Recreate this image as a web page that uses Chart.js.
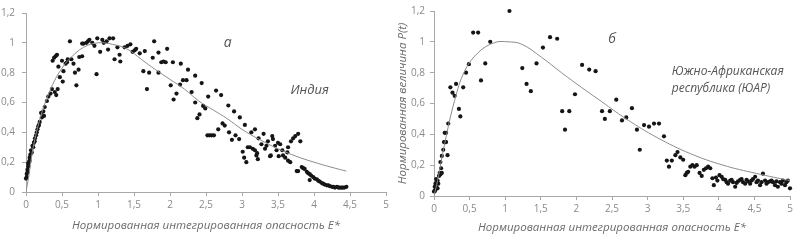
<!DOCTYPE html>
<html lang="ru">
<head>
<meta charset="UTF-8">
<title>Нормированная величина P(t)</title>
<script src="https://cdn.jsdelivr.net/npm/chart.js"></script>
<style>
  body { margin: 0; background: #fff; }
  .wrap { position: relative; width: 798px; height: 240px; }
  canvas { position: absolute; top: 0; }
  #indiaChart { left: 0; }
  #sarChart { left: 390px; }
</style>
</head>
<body>
<div class="wrap">
  <canvas id="indiaChart" width="398" height="240"></canvas>
  <canvas id="sarChart" width="408" height="240"></canvas>
</div>
<script>
// ticks
const xTicks = [0, 0.5, 1, 1.5, 2, 2.5, 3, 3.5, 4, 4.5, 5];
const yTicks = [0, 0.2, 0.4, 0.6, 0.8, 1, 1.2];

// India (a): observed points
const indiaE = [
  0.0, 0.01, 0.02, 0.03, 0.05, 0.05, 0.08, 0.09, 0.11, 0.125, 0.15, 0.17, 0.19, 0.21, 0.25, 0.26, 0.29, 0.31, 0.34, 0.36, 0.40, 0.42, 0.44,
  0.01, 0.02, 0.03, 0.04, 0.06, 0.07, 0.10, 0.12, 0.14, 0.16, 0.18, 0.22, 0.24,
  0.37, 0.39, 0.41, 0.43, 0.45, 0.47, 0.50, 0.51, 0.52, 0.55, 0.57, 0.58, 0.61, 0.63, 0.66, 0.68, 0.70, 0.73, 0.74, 0.78, 0.78, 0.80,
  0.84, 0.86, 0.88, 0.92, 0.95, 0.99, 0.98, 1.03, 1.06, 1.08, 1.12, 1.14, 1.16, 1.21, 1.23, 1.27, 1.30, 1.31, 1.37, 1.41, 1.45, 1.48, 1.51, 1.53,
  1.58, 1.65, 1.63, 1.68, 1.71, 1.76, 1.78, 1.84, 1.84, 1.88, 1.91, 1.94, 1.96, 2.01, 2.04, 2.05, 2.09, 2.14, 2.15, 2.18, 2.23, 2.25, 2.30,
  2.35, 2.35, 2.38, 2.41, 2.44, 2.46, 2.49, 2.53, 2.52, 2.55, 2.58, 2.61, 2.64, 2.67, 2.71, 2.73, 2.76, 2.81, 2.82, 2.86, 2.89, 2.91, 2.96,
  2.97, 3.01, 3.04, 3.03, 3.06, 3.08, 3.11, 3.15, 3.13, 3.18, 3.21, 3.22,
  3.23, 3.18, 3.20, 3.27, 3.30, 3.32, 3.34, 3.36, 3.39, 3.40, 3.42, 3.43, 3.46, 3.48, 3.50, 3.53, 3.51, 3.56, 3.57, 3.60, 3.63, 3.64, 3.64,
  3.67, 3.68, 3.71, 3.74, 3.78, 3.76, 3.78, 3.81, 3.83, 3.85, 3.87, 3.90, 3.92, 3.94, 3.96, 3.99, 3.94, 4.01, 4.04, 4.06, 4.08, 4.11, 4.13,
  4.15, 4.18, 4.20, 4.22, 4.25, 4.27, 4.29, 4.32, 4.34, 4.36, 4.38, 4.40, 4.42, 4.45
];
const indiaP = [
  0.09, 0.12, 0.15, 0.17, 0.21, 0.23, 0.265, 0.31, 0.33, 0.36, 0.40, 0.44, 0.47, 0.53, 0.51, 0.57, 0.61, 0.64, 0.66, 0.69, 0.67, 0.65, 0.69,
  0.10, 0.13, 0.19, 0.20, 0.25, 0.28, 0.30, 0.34, 0.38, 0.42, 0.45, 0.50, 0.54,
  0.88, 0.90, 0.91, 0.92, 0.84, 0.77, 0.88, 0.74, 0.81, 0.86, 0.87, 0.89, 1.01, 0.89, 0.86, 0.80, 0.715, 0.82, 0.905, 0.91, 0.995, 0.995,
  1.0, 1.01, 1.02, 1.0, 0.98, 1.03, 0.79, 0.94, 1.02, 1.0, 1.01, 0.955, 1.03, 1.03, 0.89, 0.97, 0.92, 0.875, 0.97, 0.98, 0.99, 0.94, 0.95, 0.96,
  0.93, 0.945, 0.81, 0.69, 0.80, 0.90, 1.01, 0.80, 0.935, 0.87, 0.875, 0.87, 0.96, 0.715, 0.87, 0.62, 0.66, 0.72, 0.86, 0.75, 0.75, 0.82, 0.67,
  0.60, 0.78, 0.495, 0.52, 0.73, 0.577, 0.56, 0.64, 0.38, 0.38, 0.38, 0.38, 0.68, 0.42, 0.65, 0.46, 0.445, 0.58, 0.40, 0.35, 0.54, 0.38, 0.355,
  0.50, 0.27, 0.45, 0.23, 0.20, 0.30, 0.30, 0.29, 0.40, 0.42, 0.26, 0.22,
  0.36, 0.28, 0.245, 0.32, 0.39, 0.29, 0.31, 0.34, 0.24, 0.245, 0.375, 0.355, 0.31, 0.28, 0.33, 0.32, 0.24, 0.28, 0.245, 0.23, 0.265, 0.30, 0.21,
  0.20, 0.34, 0.36, 0.375, 0.39, 0.14, 0.14, 0.34, 0.167, 0.16, 0.155, 0.135, 0.125, 0.12, 0.11, 0.10, 0.08, 0.09, 0.085, 0.075, 0.07, 0.06, 0.055,
  0.05, 0.045, 0.045, 0.04, 0.035, 0.035, 0.03, 0.035, 0.03, 0.03, 0.03, 0.03, 0.03, 0.035
];
// India (a): fitted curve
const indiaCurveE = [0, 0.05, 0.1, 0.2, 0.3, 0.4, 0.5, 0.6, 0.8, 1.0, 1.2, 1.4, 1.6, 1.8, 2.0, 2.2, 2.4, 2.6, 2.8, 3.0, 3.25, 3.5, 3.75, 4.0, 4.25, 4.45];
const indiaCurveP = [0, 0.14, 0.30, 0.50, 0.64, 0.75, 0.83, 0.89, 0.97, 1.0, 0.99, 0.96, 0.89, 0.82, 0.755, 0.69, 0.61, 0.55, 0.49, 0.42, 0.35, 0.29, 0.24, 0.20, 0.165, 0.14];

// South Africa (б): observed points
const sarE = [
  0.0, 0.01, 0.02, 0.03, 0.05, 0.06, 0.07, 0.08, 0.09, 0.10, 0.11, 0.01, 0.03, 0.05, 0.02, 0.04,
  0.09, 0.11, 0.13, 0.14, 0.16, 0.15, 0.17, 0.19, 0.17, 0.20, 0.23, 0.26, 0.29, 0.31, 0.35, 0.37, 0.41, 0.45, 0.49, 0.55, 0.62, 0.66, 0.72, 0.79,
  1.06, 1.24, 1.30, 1.36, 1.44, 1.53, 1.63, 1.73, 1.80, 1.84, 1.90, 1.98, 2.08, 2.18, 2.27, 2.36, 2.40, 2.47, 2.56, 2.64, 2.70, 2.78,
  2.85, 2.89, 2.95, 3.02, 3.09, 3.16, 3.23, 3.27, 3.30, 3.34, 3.39, 3.42, 3.46, 3.50, 3.53, 3.55, 3.57, 3.60, 3.63, 3.66, 3.69, 3.73, 3.76,
  3.79, 3.82, 3.85, 3.88, 3.91, 3.93, 3.96, 3.98,
  4.01, 4.04, 4.06, 4.09, 4.11, 4.13, 4.16, 4.18, 4.20, 4.23, 4.25, 4.27, 4.30, 4.32, 4.34, 4.37, 4.39, 4.41, 4.44, 4.46, 4.48, 4.51,
  4.53, 4.55, 4.58, 4.60, 4.62, 4.65, 4.67, 4.69, 4.72, 4.74, 4.76, 4.79, 4.81, 4.83, 4.86, 4.88, 4.90, 4.93, 4.95, 4.97, 5.0
];
const sarP = [
  0.03, 0.06, 0.08, 0.06, 0.10, 0.08, 0.13, 0.15, 0.14, 0.18, 0.15, 0.03, 0.11, 0.05, 0.04, 0.09,
  0.22, 0.26, 0.30, 0.35, 0.35, 0.41, 0.41, 0.265, 0.35, 0.47, 0.705, 0.67, 0.65, 0.727, 0.565, 0.516, 0.705, 0.80, 0.855, 1.06, 1.06, 0.75, 0.86, 1.0,
  1.20, 0.83, 0.727, 0.68, 0.86, 0.963, 1.03, 1.02, 0.55, 0.43, 0.55, 0.66, 0.85, 0.82, 0.81, 0.55, 0.50, 0.55, 0.625, 0.49, 0.51, 0.57,
  0.43, 0.30, 0.46, 0.45, 0.47, 0.47, 0.387, 0.23, 0.19, 0.23, 0.265, 0.285, 0.25, 0.235, 0.135, 0.15, 0.157, 0.19, 0.20, 0.19, 0.20, 0.15, 0.13,
  0.17, 0.18, 0.19, 0.18, 0.115, 0.07, 0.12, 0.10,
  0.135, 0.125, 0.11, 0.105, 0.09, 0.08, 0.10, 0.105, 0.09, 0.06, 0.085, 0.095, 0.105, 0.11, 0.09, 0.08, 0.105, 0.095, 0.08, 0.10, 0.11, 0.125,
  0.09, 0.10, 0.07, 0.09, 0.145, 0.10, 0.08, 0.09, 0.095, 0.10, 0.09, 0.07, 0.095, 0.06, 0.09, 0.08, 0.10, 0.07, 0.09, 0.10, 0.05
];
// South Africa (б): fitted curve
const sarCurveE = [0, 0.05, 0.15, 0.29, 0.43, 0.62, 0.85, 1.04, 1.23, 1.51, 1.79, 2.07, 2.3, 2.7, 3.13, 3.6, 4.06, 4.53, 5.0];
const sarCurveP = [0, 0.10, 0.34, 0.62, 0.81, 0.93, 0.995, 1.0, 0.985, 0.90, 0.80, 0.705, 0.63, 0.50, 0.38, 0.275, 0.20, 0.146, 0.10];

const xTitle = 'Нормированная интегрированная опасность E*';
const yTitle = 'Нормированная величина P(t)';

const FONT = "'Open Sans', sans-serif";
const TICK_COLOR = '#8a8a8a';
const AXIS_COLOR = '#a8a8a8';
const TEXT_COLOR = '#6a6a6a';

const fmt = v => String(Math.round(v * 10) / 10).replace('.', ',');
const pairs = (xs, ys) => xs.map((x, i) => ({ x: x, y: ys[i] }));

function notesPlugin(items) {
  return {
    id: 'notes',
    afterDatasetsDraw(chart) {
      const { ctx, scales: { x, y } } = chart;
      ctx.save();
      ctx.fillStyle = '#555';
      ctx.textBaseline = 'middle';
      items.forEach(n => {
        ctx.font = n.font;
        ctx.textAlign = n.align || 'center';
        ctx.fillText(n.text, x.getPixelForValue(n.x), y.getPixelForValue(n.y));
      });
      ctx.restore();
    }
  };
}

function makeChart(id, pts, curve, o) {
  const ctx = document.getElementById(id).getContext('2d');
  return new Chart(ctx, {
    type: 'scatter',
    data: {
      datasets: [{
        data: curve,
        showLine: true,
        borderColor: '#8c8c8c',
        borderWidth: 1,
        pointRadius: 0,
        tension: 0.4,
        fill: false
      }, {
        data: pts,
        backgroundColor: '#151515',
        borderWidth: 0,
        pointRadius: 2.1,
        clip: false
      }]
    },
    options: {
      responsive: false,
      animation: false,
      layout: { padding: o.padding },
      plugins: { legend: { display: false }, tooltip: { enabled: false } },
      scales: {
        x: {
          type: 'linear',
          min: 0, max: 5,
          afterBuildTicks: s => { s.ticks = xTicks.map(v => ({ value: v })); },
          afterFit: s => { s.height = o.xHeight; },
          ticks: { callback: fmt, color: TICK_COLOR, font: { family: FONT, size: 10 }, padding: 3, maxRotation: 0 },
          grid: { drawOnChartArea: false, tickLength: 4, color: AXIS_COLOR },
          border: { color: AXIS_COLOR },
          title: { display: true, text: xTitle, color: TEXT_COLOR, font: { family: FONT, size: 11.5, style: 'italic' }, padding: { top: 0, bottom: o.xTitlePad } }
        },
        y: {
          type: 'linear',
          min: 0, max: 1.2,
          afterBuildTicks: s => { s.ticks = yTicks.map(v => ({ value: v })); },
          afterFit: s => { s.width = o.yWidth; },
          ticks: { callback: fmt, color: TICK_COLOR, font: { family: FONT, size: 10 }, padding: o.yTickPad },
          grid: { drawOnChartArea: false, tickLength: 4, color: AXIS_COLOR },
          border: { color: AXIS_COLOR },
          title: { display: o.yTitle, text: yTitle, color: TEXT_COLOR, font: { family: FONT, size: 11.5, style: 'italic' }, padding: { top: 6, bottom: 0 } }
        }
      }
    },
    plugins: [notesPlugin(o.notes)]
  });
}

makeChart('indiaChart', pairs(indiaE, indiaP), pairs(indiaCurveE, indiaCurveP), {
  padding: { top: 10, right: 12, left: 0, bottom: 0 },
  xHeight: 48, yWidth: 26, yTickPad: 7, xTitlePad: 7, yTitle: false,
  notes: [
    { text: 'а', x: 2.8, y: 1.0, font: "italic 14px " + FONT },
    { text: 'Индия', x: 3.94, y: 0.68, font: "italic 13px " + FONT }
  ]
});

makeChart('sarChart', pairs(sarE, sarP), pairs(sarCurveE, sarCurveP), {
  padding: { top: 10, right: 8, left: 0, bottom: 0 },
  xHeight: 44, yWidth: 44, yTickPad: 5, xTitlePad: 5, yTitle: true,
  notes: [
    { text: 'б', x: 2.5, y: 1.02, font: "italic 14px " + FONT },
    { text: 'Южно-Африканская', x: 3.34, y: 0.81, font: "italic 12px " + FONT, align: 'left' },
    { text: 'республика (ЮАР)', x: 3.34, y: 0.70, font: "italic 12px " + FONT, align: 'left' }
  ]
});
</script>
</body>
</html>
